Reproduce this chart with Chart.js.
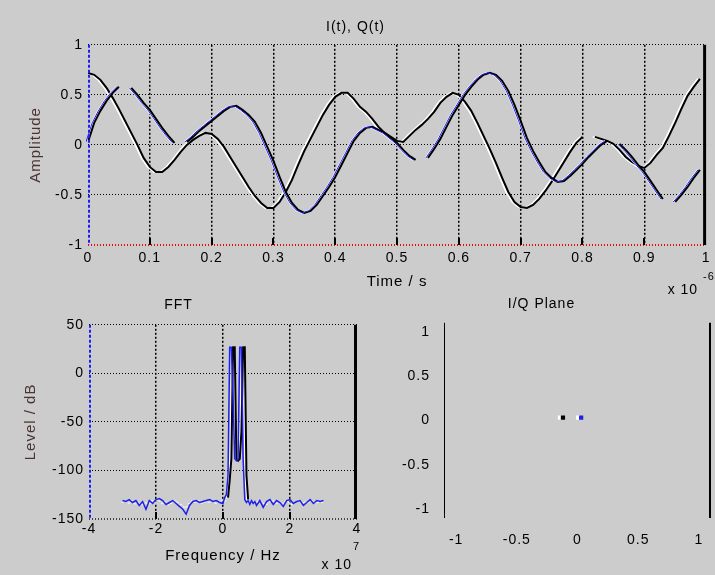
<!DOCTYPE html>
<html>
<head>
<meta charset="utf-8">
<title>I(t), Q(t)</title>
<script src="https://cdn.jsdelivr.net/npm/chart.js@4.4.0/dist/chart.umd.min.js"></script>
<style>
  html, body { margin: 0; padding: 0; background: #cccccc; }
  body { width: 715px; height: 575px; position: relative; overflow: hidden; }
  .panel { position: absolute; }
</style>
</head>
<body>
<div class="panel" style="left:0;top:0;width:715px;height:300px"><canvas id="timeChart"></canvas></div>
<div class="panel" style="left:0;top:285px;width:370px;height:290px"><canvas id="fftChart"></canvas></div>
<div class="panel" style="left:370px;top:285px;width:345px;height:290px"><canvas id="iqChart"></canvas></div>

<script>
// ---- data ----
// time axis in units of 1e-6 s
const timeUs = [
  0.00, 0.01, 0.02, 0.03, 0.04, 0.05, 0.06, 0.07, 0.08, 0.09,
  0.10, 0.11, 0.12, 0.13, 0.14, 0.15, 0.16, 0.17, 0.18, 0.19,
  0.20, 0.21, 0.22, 0.23, 0.24, 0.25, 0.26, 0.27, 0.28, 0.29,
  0.30, 0.31, 0.32, 0.33, 0.34, 0.35, 0.36, 0.37, 0.38, 0.39,
  0.40, 0.41, 0.42, 0.43, 0.44, 0.45, 0.46, 0.47, 0.48, 0.49,
  0.50, 0.51, 0.52, 0.53, 0.54, 0.55, 0.56, 0.57, 0.58, 0.59,
  0.60, 0.61, 0.62, 0.63, 0.64, 0.65, 0.66, 0.67, 0.68, 0.69,
  0.70, 0.71, 0.72, 0.73, 0.74, 0.75, 0.76, 0.77, 0.78, 0.79,
  0.80, 0.81, 0.82, 0.83, 0.84, 0.85, 0.86, 0.87, 0.88, 0.89,
  0.90, 0.91, 0.92, 0.93, 0.94, 0.95, 0.96, 0.97, 0.98, 0.99,
  1.00
];
// curve starting at 0.72
const sigQ = [
  0.72, 0.70, 0.65, 0.57, 0.47, 0.36, 0.24, 0.12, 0.00, -0.13,
  -0.22, -0.27, -0.27, -0.22, -0.15, -0.07, 0.00, 0.05, 0.09, 0.12,
  0.11, 0.06, -0.02, -0.12, -0.22, -0.32, -0.42, -0.51, -0.58, -0.63,
  -0.63, -0.57, -0.47, -0.35, -0.20, -0.06, 0.06, 0.18, 0.30, 0.40,
  0.48, 0.52, 0.52, 0.46, 0.38, 0.33, 0.26, 0.18, 0.12, 0.08,
  0.04, 0.03, 0.09, 0.15, 0.20, 0.26, 0.33, 0.42, 0.48, 0.52,
  0.50, 0.43, 0.34, 0.22, 0.09, -0.04, -0.18, -0.33, -0.47, -0.57,
  -0.62, -0.63, -0.60, -0.54, -0.46, -0.37, -0.27, -0.17, -0.07, 0.02,
  0.08, null, 0.08, 0.06, 0.04, 0.01, -0.05, -0.12, -0.17, -0.21,
  -0.23, -0.18, -0.10, -0.03, 0.09, 0.22, 0.36, 0.49, 0.58, 0.66,
  null
];
// curve starting at 0 (the one with the blue trace)
const sigI = [
  0.03, 0.22, 0.34, 0.44, 0.52, 0.58, null, 0.57, 0.50, 0.42,
  0.35, 0.26, 0.17, 0.09, 0.02, null, 0.03, 0.08, 0.14, 0.19,
  0.24, 0.29, 0.34, 0.38, 0.39, 0.35, 0.30, 0.23, 0.12, -0.02,
  -0.16, -0.32, -0.47, -0.58, -0.65, -0.68, -0.66, -0.60, -0.51, -0.42,
  -0.32, -0.20, -0.08, 0.04, 0.12, 0.17, 0.18, 0.15, 0.12, 0.07,
  0.02, -0.05, -0.11, -0.15, null, -0.13, -0.04, 0.06, 0.18, 0.30,
  0.40, 0.50, 0.58, 0.65, 0.70, 0.72, 0.70, 0.64, 0.54, 0.40,
  0.24, 0.07, -0.06, -0.17, -0.27, -0.33, -0.37, -0.36, -0.31, -0.25,
  -0.19, -0.12, -0.06, 0.00, 0.04, null, 0.01, -0.05, -0.12, -0.20,
  -0.27, -0.36, -0.45, -0.54, null, -0.57, -0.50, -0.42, -0.33, -0.25,
  null
];
const timeTicks = [0, 0.1, 0.2, 0.3, 0.4, 0.5, 0.6, 0.7, 0.8, 0.9, 1];
const ampTicks = [-1, -0.5, 0, 0.5, 1];

// frequency in units of 1e7 Hz
const fftFreq = [
  -3.0, -2.9, -2.8, -2.7, -2.6, -2.5, -2.4, -2.3, -2.2, -2.1,
  -2.0, -1.9, -1.8, -1.7, -1.6, -1.5, -1.4, -1.3, -1.2, -1.1,
  -1.0, -0.9, -0.8, -0.7, -0.6, -0.5, -0.4, -0.3, -0.2, -0.1,
  0.00, 0.05, 0.10, 0.15, 0.20, 0.25, 0.30, 0.35, 0.40, 0.45,
  0.50, 0.55, 0.60, 0.65, 0.70, 0.75, 0.80, 0.85, 0.90, 0.95,
  1.0, 1.1, 1.2, 1.3, 1.4, 1.5, 1.6, 1.7, 1.8, 1.9,
  2.0, 2.1, 2.2, 2.3, 2.4, 2.5, 2.6, 2.7, 2.8, 2.9, 3.0
];
const fftBlueDb = [
  -131, -132, -130, -133, -131, -136, -132, -140, -131, -134,
  -130, -129, -131, -135, -133, -131, -134, -137, -140, -145,
  -136, -132, -131, -133, -132, -131, -130, -132, -131, -133,
  -134, -128, -125, -105, 27, 27, -25, -88, -90, -88,
  27, 27, -88, -130, -133, -131, -135, -131, -134, -132,
  -136, -131, -138, -132, -130, -135, -131, -133, -137, -131,
  -130, -134, -132, -131, -136, -133, -130, -134, -131, -132, -131
];
const fftBlackDb = [
  -133, -131, -134, -131, -135, -132, -136, -133, -135, -131,
  -133, -131, -134, -132, -136, -133, -131, -134, -136, -139,
  -134, -131, -133, -131, -134, -132, -133, -131, -134, -132,
  -131, -133, -130, -128, -110, -88, 27, 27, -88, -90,
  -88, -60, 27, 27, -105, -130, -134, -131, -133, -132,
  -134, -131, -133, -136, -132, -131, -134, -132, -135, -131,
  -133, -136, -132, -131, -134, -132, -133, -131, -134, -132, -133
];
const freqTicks = [-4, -2, 0, 2, 4];
const levelTicks = [-150, -100, -50, 0, 50];

// I/Q plane samples
const iqI = [-0.12, 0.03];
const iqQ = [0.03, 0.03];
const iqTicks = [-1, -0.5, 0, 0.5, 1];

// ---- styling ----
const FONT = "'Liberation Sans', Arial, sans-serif";
const BLUE = '#2020ee';
const CLEAR = 'rgba(0,0,0,0)';
Chart.defaults.font.family = FONT;
Chart.defaults.color = '#000';

function pts(xs, ys) {
  return xs.map((x, i) => ({ x: x, y: ys[i] }));
}
function fixedTicks(list) {
  return (scale) => { scale.ticks = list.map((v) => ({ value: v })); };
}

// white shadow / small shift for the traces
const fxPlugin = {
  id: 'fx',
  beforeDatasetDraw(chart, args) {
    const fx = chart.data.datasets[args.index].fx;
    if (!fx) return;
    const ctx = chart.ctx;
    ctx.save();
    if (fx.shiftX) ctx.translate(fx.shiftX, 0);
    if (fx.shadow) {
      ctx.shadowColor = fx.shadow;
      ctx.shadowOffsetX = fx.offX || 0;
      ctx.shadowOffsetY = fx.offY || 0;
      ctx.shadowBlur = 0;
    }
  },
  afterDatasetDraw(chart, args) {
    if (chart.data.datasets[args.index].fx) chart.ctx.restore();
  }
};

// axis box edges and inner tick marks
const edgePlugin = {
  id: 'edges',
  beforeDraw(chart) {
    chart.ctx.letterSpacing = '1px';
  },
  afterDatasetsDraw(chart, args, opts) {
    const { ctx, chartArea: a } = chart;
    (opts.lines || []).forEach((l) => {
      ctx.save();
      ctx.strokeStyle = l.color;
      ctx.lineWidth = l.width;
      ctx.setLineDash(l.dash || []);
      ctx.beginPath();
      let x;
      if (l.side === 'left') x = a.left + l.width / 2;
      else x = a.right - l.width / 2;
      ctx.moveTo(x, a.top);
      ctx.lineTo(x, a.bottom);
      ctx.stroke();
      ctx.restore();
    });
    if (opts.innerTicks) {
      const xs = chart.scales.x;
      ctx.save();
      ctx.fillStyle = '#000';
      xs.ticks.forEach((t) => {
        if (t.value <= xs.min || t.value >= xs.max) return;
        const px = Math.round(xs.getPixelForValue(t.value));
        ctx.fillRect(px - 1, a.bottom - 7, 2, 7);
      });
      ctx.restore();
    }
  },
  afterDraw(chart, args, opts) {
    if (!opts.exp) return;
    const { ctx, chartArea: a } = chart;
    const e = opts.exp;
    ctx.save();
    ctx.letterSpacing = '1px';
    ctx.fillStyle = '#000';
    ctx.textBaseline = 'middle';
    ctx.font = '14px ' + FONT;
    ctx.textAlign = 'right';
    ctx.fillText(e.base, a.right + e.dx, a.bottom + e.dy);
    ctx.font = '11px ' + FONT;
    ctx.textAlign = 'left';
    ctx.fillText(e.power, a.right + e.dx + e.pdx, a.bottom + e.pdy);
    ctx.restore();
  }
};

function tickFont() { return { size: 14 }; }

// ---- I(t), Q(t) ----
new Chart(document.getElementById('timeChart'), {
  type: 'line',
  data: {
    datasets: [
      { data: pts(timeUs, sigI), borderColor: BLUE, borderWidth: 1, order: 0, fx: { shiftX: -2 } },
      { data: pts(timeUs, sigI), borderColor: '#000', borderWidth: 2, order: 1, fx: { shadow: '#fff', offX: -2 } },
      { data: pts(timeUs, sigQ), borderColor: '#000', borderWidth: 2, order: 2, fx: { shadow: '#fff', offX: -2 } }
    ]
  },
  options: {
    responsive: true,
    maintainAspectRatio: false,
    animation: false,
    devicePixelRatio: 1,
    spanGaps: false,
    elements: { point: { radius: 0 }, line: { tension: 0 } },
    layout: { padding: { left: 0, right: 4, top: 0, bottom: 0 } },
    plugins: {
      legend: { display: false },
      tooltip: { enabled: false },
      title: { display: true, text: 'I(t), Q(t)', font: { size: 14, weight: 'normal' }, padding: { top: 19, bottom: 9 } },
      edges: {
        lines: [
          { side: 'left', color: BLUE, width: 2, dash: [3, 2] },
          { side: 'right', color: '#000', width: 3 }
        ],
        innerTicks: true,
        exp: { base: 'x 10', power: '-6', dx: -8, dy: 45, pdx: 5, pdy: 32 }
      }
    },
    scales: {
      x: {
        type: 'linear', min: 0, max: 1,
        afterFit: (s) => { s.height = 55; },
        afterBuildTicks: fixedTicks(timeTicks),
        ticks: { padding: 5, maxRotation: 0, autoSkip: false, font: tickFont(), callback: (v) => String(v) },
        grid: { drawTicks: false, lineWidth: 1.5, color: (c) => (c.tick && (c.tick.value === 0 || c.tick.value === 1)) ? CLEAR : '#000' },
        border: { display: false, dash: [2, 2] },
        title: { display: true, text: 'Time / s', font: { size: 15 }, padding: { top: 0, bottom: 9 } }
      },
      y: {
        type: 'linear', min: -1, max: 1,
        afterFit: (s) => { s.width = 88; },
        afterBuildTicks: fixedTicks(ampTicks),
        ticks: { padding: 5, autoSkip: false, font: tickFont(), callback: (v) => String(v) },
        grid: {
          drawTicks: false,
          lineWidth: (c) => (c.tick && c.tick.value === -1) ? 2 : 1,
          color: (c) => (c.tick && c.tick.value === -1) ? '#e01010' : '#000'
        },
        border: { display: false, dash: [1, 2] },
        title: { display: true, text: 'Amplitude', color: '#4a3434', font: { size: 15 }, padding: { top: 27, bottom: 0 } }
      }
    }
  },
  plugins: [fxPlugin, edgePlugin]
});

// ---- FFT ----
const nearFloor = (c) => c.p0.parsed.y < -120 && c.p1.parsed.y < -120;
new Chart(document.getElementById('fftChart'), {
  type: 'line',
  data: {
    datasets: [
      { data: pts(fftFreq, fftBlueDb), borderColor: BLUE, borderWidth: 1.5, order: 0 },
      {
        data: pts(fftFreq, fftBlackDb), borderColor: '#000', borderWidth: 2, order: 1,
        segment: {
          borderColor: (c) => nearFloor(c) ? '#f2f2f2' : undefined,
          borderWidth: (c) => nearFloor(c) ? 1 : undefined,
          borderDash: (c) => nearFloor(c) ? [2, 2] : undefined
        },
        fx: { shadow: '#fff', offX: -1 }
      }
    ]
  },
  options: {
    responsive: true,
    maintainAspectRatio: false,
    animation: false,
    devicePixelRatio: 1,
    elements: { point: { radius: 0 }, line: { tension: 0 } },
    layout: { padding: { left: 0, right: 13, top: 0, bottom: 0 } },
    plugins: {
      legend: { display: false },
      tooltip: { enabled: false },
      title: { display: true, text: 'FFT', font: { size: 14, weight: 'normal' }, padding: { top: 12, bottom: 11 } },
      edges: {
        lines: [
          { side: 'left', color: BLUE, width: 2, dash: [3, 2] },
          { side: 'right', color: '#000', width: 3 }
        ],
        innerTicks: true,
        exp: { base: 'x 10', power: '7', dx: -5, dy: 46, pdx: 1, pdy: 28 }
      }
    },
    scales: {
      x: {
        type: 'linear', min: -4, max: 4,
        afterFit: (s) => { s.height = 56; },
        afterBuildTicks: fixedTicks(freqTicks),
        ticks: { padding: 2, maxRotation: 0, autoSkip: false, font: tickFont(), callback: (v) => String(v) },
        grid: { drawTicks: false, lineWidth: 1.5, color: (c) => (c.tick && (c.tick.value === -4 || c.tick.value === 4)) ? CLEAR : '#000' },
        border: { display: false, dash: [2, 2] },
        title: { display: true, text: 'Frequency / Hz', font: { size: 15 }, padding: { top: 0, bottom: 10 } }
      },
      y: {
        type: 'linear', min: -150, max: 50,
        afterFit: (s) => { s.width = 89; },
        afterBuildTicks: fixedTicks(levelTicks),
        ticks: { padding: 5, autoSkip: false, font: tickFont(), callback: (v) => String(v) },
        grid: {
          drawTicks: false,
          lineWidth: (c) => (c.tick && c.tick.value === -150) ? 2 : 1,
          color: (c) => (c.tick && c.tick.value === -150) ? '#444' : '#000'
        },
        border: { display: false, dash: [1, 2] },
        title: { display: true, text: 'Level / dB', color: '#4a3434', font: { size: 15 }, padding: { top: 22, bottom: 0 } }
      }
    }
  },
  plugins: [fxPlugin, edgePlugin]
});

// ---- I/Q plane ----
new Chart(document.getElementById('iqChart'), {
  type: 'scatter',
  data: {
    datasets: [
      {
        data: pts(iqI, iqQ),
        pointStyle: 'rect', pointRadius: 3,
        pointBackgroundColor: ['#000', BLUE], pointBorderColor: ['#000', BLUE], pointBorderWidth: 0,
        fx: { shadow: '#fff', offX: -3 }
      }
    ]
  },
  options: {
    responsive: true,
    maintainAspectRatio: false,
    animation: false,
    devicePixelRatio: 1,
    layout: { padding: { left: 0, right: 2, top: 0, bottom: 0 } },
    plugins: {
      legend: { display: false },
      tooltip: { enabled: false },
      title: { display: true, text: 'I/Q Plane', font: { size: 14, weight: 'normal' }, padding: { top: 11, bottom: 10 } },
      edges: {
        lines: [
          { side: 'left', color: '#000', width: 1 },
          { side: 'right', color: '#000', width: 2 }
        ]
      }
    },
    scales: {
      x: {
        type: 'linear', min: -1.1, max: 1.1,
        afterFit: (s) => { s.height = 57; },
        afterBuildTicks: fixedTicks(iqTicks),
        ticks: { padding: 6, maxRotation: 0, autoSkip: false, font: tickFont(), callback: (v) => String(v) },
        grid: { display: false },
        border: { display: false }
      },
      y: {
        type: 'linear', min: -1.1, max: 1.1,
        afterFit: (s) => { s.width = 74; },
        afterBuildTicks: fixedTicks(iqTicks),
        ticks: { padding: 6, autoSkip: false, font: tickFont(), callback: (v) => String(v) },
        grid: { display: false },
        border: { display: false }
      }
    }
  },
  plugins: [fxPlugin, edgePlugin]
});
</script>
</body>
</html>
